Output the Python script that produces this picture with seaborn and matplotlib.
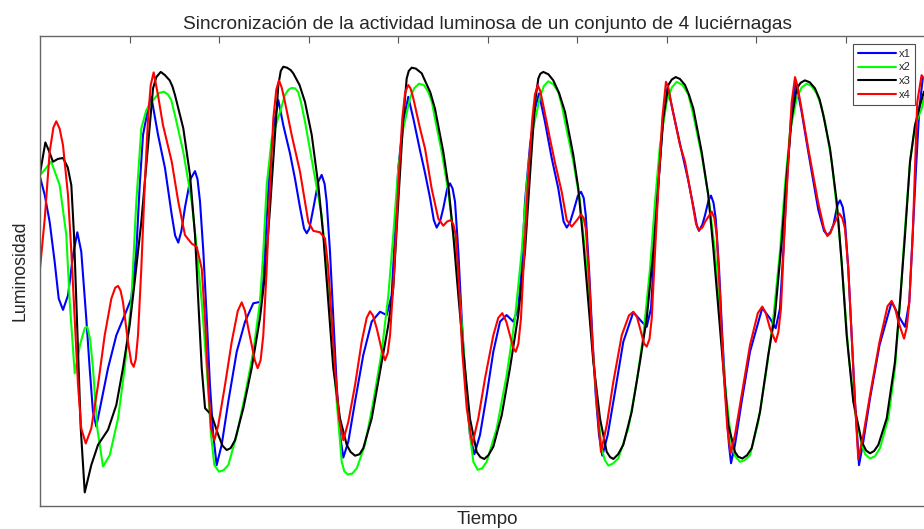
import matplotlib
matplotlib.use("Agg")
import matplotlib.pyplot as plt
import pandas as pd
import seaborn as sns

title = "Sincronización de la actividad luminosa de un conjunto de 4 luciérnagas"
x_label = "Tiempo"
y_label = "Luminosidad"
series_names = ["x1", "x2", "x3", "x4"]
series_colors = ["#0000ff", "#00ff00", "#000000", "#ff0000"]

# (tiempo, luminosidad)
x1_data = [(0.00, 7.00), (0.053, 6.61), (0.108, 6.04), (0.164, 5.19), (0.209, 4.41), (0.257, 4.17), (0.313, 4.48), (0.369, 5.33), (0.417, 5.82), (0.461, 5.41), (0.517, 3.99), (0.555, 2.93), (0.592, 2.00), (0.629, 1.69), (0.685, 2.22), (0.76, 2.93), (0.853, 3.63), (0.946, 4.06), (1.02, 4.41), (1.076, 5.41), (1.114, 6.82), (1.151, 7.89), (1.207, 8.45), (1.244, 8.70), (1.318, 7.90), (1.397, 7.18), (1.471, 6.20), (1.51, 5.75), (1.545, 5.60), (1.58, 5.85), (1.62, 6.35), (1.68, 6.95), (1.732, 7.12), (1.76, 6.95), (1.788, 6.47), (1.825, 5.41), (1.863, 3.99), (1.899, 2.57), (1.936, 1.51), (1.974, 0.87), (2.03, 1.30), (2.104, 2.22), (2.198, 3.28), (2.291, 3.92), (2.383, 4.31), (2.458, 4.34), (2.495, 4.77), (2.533, 6.11), (2.57, 7.32), (2.626, 8.24), (2.663, 8.63), (2.718, 8.10), (2.793, 7.50), (2.849, 6.96), (2.905, 6.35), (2.95, 5.90), (2.98, 5.80), (3.01, 5.90), (3.054, 6.33), (3.11, 6.90), (3.147, 7.04), (3.18, 6.85), (3.203, 6.47), (3.24, 5.41), (3.277, 3.99), (3.315, 2.57), (3.352, 1.51), (3.389, 1.03), (3.445, 1.37), (3.52, 2.22), (3.612, 3.21), (3.706, 3.92), (3.799, 4.13), (3.874, 4.06), (3.929, 4.48), (3.966, 5.76), (4.003, 7.18), (4.059, 8.17), (4.115, 8.70), (4.171, 8.24), (4.246, 7.56), (4.302, 7.08), (4.358, 6.55), (4.40, 6.08), (4.432, 5.92), (4.47, 6.05), (4.506, 6.33), (4.55, 6.75), (4.581, 6.86), (4.61, 6.75), (4.637, 6.47), (4.674, 5.41), (4.712, 3.99), (4.756, 2.57), (4.804, 1.51), (4.853, 1.10), (4.916, 1.51), (4.991, 2.36), (5.065, 3.28), (5.14, 3.92), (5.214, 4.06), (5.288, 3.92), (5.344, 4.20), (5.382, 5.05), (5.419, 6.47), (5.475, 7.67), (5.531, 8.45), (5.575, 8.77), (5.642, 8.17), (5.717, 7.40), (5.791, 6.75), (5.85, 6.05), (5.885, 5.92), (5.92, 6.02), (5.959, 6.26), (6.01, 6.60), (6.045, 6.68), (6.075, 6.55), (6.098, 6.18), (6.134, 5.05), (6.171, 3.63), (6.209, 2.36), (6.246, 1.51), (6.283, 1.07), (6.343, 1.51), (6.425, 2.43), (6.517, 3.49), (6.629, 4.12), (6.723, 3.92), (6.779, 3.81), (6.827, 4.20), (6.864, 5.41), (6.908, 6.82), (6.953, 8.03), (7.013, 8.91), (7.076, 8.35), (7.151, 7.70), (7.24, 6.95), (7.307, 6.30), (7.34, 5.95), (7.363, 5.85), (7.40, 5.98), (7.43, 6.18), (7.47, 6.50), (7.497, 6.60), (7.525, 6.45), (7.55, 6.11), (7.587, 5.05), (7.623, 3.63), (7.661, 2.36), (7.698, 1.30), (7.721, 0.91), (7.765, 1.30), (7.84, 2.22), (7.933, 3.28), (8.07, 4.21), (8.156, 3.99), (8.22, 3.78), (8.268, 4.20), (8.305, 5.41), (8.343, 6.82), (8.391, 8.24), (8.443, 9.05), (8.51, 8.38), (8.584, 7.53), (8.696, 6.30), (8.76, 5.85), (8.797, 5.76), (8.83, 5.82), (8.864, 5.97), (8.91, 6.40), (8.939, 6.50), (8.97, 6.35), (8.994, 6.04), (9.031, 5.05), (9.069, 3.63), (9.106, 2.22), (9.151, 0.87), (9.199, 1.37), (9.274, 2.29), (9.38, 3.42), (9.516, 4.34), (9.609, 3.99), (9.665, 3.81), (9.713, 4.34), (9.751, 5.76), (9.788, 7.18), (9.825, 8.45), (9.863, 9.09), (9.89, 9.12)]

x2_data = [(0.00, 7.03), (0.126, 7.32), (0.22, 6.82), (0.294, 5.76), (0.332, 4.34), (0.388, 2.82), (0.45, 3.45), (0.50, 3.78), (0.528, 3.81), (0.56, 3.55), (0.592, 2.93), (0.64, 1.65), (0.704, 0.84), (0.779, 1.08), (0.872, 1.86), (0.946, 2.93), (1.02, 4.34), (1.076, 6.47), (1.132, 8.03), (1.188, 8.42), (1.263, 8.63), (1.33, 8.78), (1.385, 8.81), (1.43, 8.75), (1.467, 8.63), (1.508, 8.31), (1.601, 7.53), (1.695, 6.47), (1.751, 5.48), (1.807, 4.34), (1.863, 2.93), (1.911, 1.51), (1.948, 0.87), (2.00, 0.73), (2.05, 0.76), (2.104, 0.87), (2.198, 1.51), (2.291, 2.36), (2.383, 3.28), (2.458, 4.34), (2.495, 5.41), (2.533, 6.82), (2.589, 7.81), (2.682, 8.38), (2.737, 8.74), (2.775, 8.85), (2.812, 8.89), (2.85, 8.88), (2.886, 8.80), (2.92, 8.55), (2.961, 8.17), (3.054, 7.18), (3.147, 6.18), (3.203, 5.05), (3.259, 3.63), (3.315, 2.22), (3.371, 0.94), (3.40, 0.74), (3.438, 0.67), (3.49, 0.69), (3.539, 0.80), (3.631, 1.30), (3.724, 2.22), (3.818, 3.28), (3.892, 4.48), (3.947, 5.76), (4.003, 7.18), (4.059, 8.03), (4.134, 8.67), (4.18, 8.88), (4.235, 8.98), (4.29, 8.95), (4.339, 8.80), (4.38, 8.58), (4.413, 8.24), (4.488, 7.53), (4.562, 6.68), (4.637, 5.48), (4.693, 4.34), (4.749, 2.93), (4.804, 1.51), (4.842, 0.94), (4.89, 0.77), (4.94, 0.80), (4.991, 0.94), (5.103, 1.65), (5.214, 2.78), (5.307, 3.99), (5.382, 5.41), (5.438, 6.82), (5.494, 7.89), (5.587, 8.70), (5.63, 8.93), (5.679, 9.03), (5.735, 8.97), (5.791, 8.80), (5.83, 8.52), (5.866, 8.17), (5.959, 7.32), (6.034, 6.47), (6.108, 5.05), (6.164, 3.63), (6.22, 2.22), (6.276, 1.23), (6.31, 0.98), (6.35, 0.86), (6.40, 0.90), (6.461, 1.01), (6.573, 1.65), (6.667, 2.64), (6.741, 3.63), (6.816, 5.05), (6.872, 6.47), (6.927, 7.67), (7.002, 8.59), (7.06, 8.90), (7.114, 9.02), (7.18, 8.95), (7.244, 8.75), (7.30, 8.31), (7.393, 7.46), (7.467, 6.61), (7.542, 5.41), (7.598, 3.99), (7.654, 2.57), (7.729, 1.30), (7.77, 1.05), (7.821, 0.94), (7.87, 0.97), (7.933, 1.08), (8.026, 1.79), (8.12, 2.93), (8.193, 3.99), (8.268, 5.41), (8.324, 6.82), (8.38, 7.96), (8.455, 8.67), (8.51, 8.90), (8.567, 8.98), (8.62, 8.93), (8.678, 8.77), (8.73, 8.50), (8.771, 8.17), (8.846, 7.32), (8.92, 6.04), (8.976, 4.70), (9.031, 3.28), (9.106, 2.00), (9.181, 1.30), (9.22, 1.10), (9.274, 1.01), (9.33, 1.06), (9.385, 1.23), (9.478, 1.86), (9.553, 2.93), (9.609, 4.34), (9.665, 5.90), (9.721, 7.32), (9.777, 8.10), (9.851, 8.45), (9.877, 8.67)]

x3_data = [(0.00, 7.07), (0.06, 7.73), (0.10, 7.55), (0.145, 7.32), (0.20, 7.38), (0.257, 7.40), (0.31, 7.20), (0.35, 6.82), (0.38, 5.76), (0.406, 4.34), (0.432, 2.93), (0.455, 1.66), (0.50, 0.29), (0.573, 0.87), (0.648, 1.30), (0.76, 1.62), (0.853, 2.15), (0.927, 2.93), (1.002, 3.85), (1.058, 4.77), (1.132, 6.04), (1.207, 7.67), (1.263, 8.88), (1.30, 9.12), (1.349, 9.23), (1.397, 9.16), (1.449, 9.05), (1.48, 8.92), (1.508, 8.74), (1.601, 8.03), (1.676, 7.04), (1.732, 5.76), (1.769, 4.34), (1.807, 2.93), (1.844, 2.08), (1.918, 1.93), (1.992, 1.51), (2.04, 1.28), (2.086, 1.19), (2.13, 1.23), (2.179, 1.40), (2.272, 2.08), (2.365, 2.93), (2.458, 4.00), (2.514, 4.91), (2.57, 6.33), (2.626, 7.89), (2.663, 8.95), (2.69, 9.25), (2.718, 9.34), (2.76, 9.32), (2.80, 9.27), (2.83, 9.20), (2.90, 8.95), (2.961, 8.59), (3.036, 7.89), (3.11, 6.82), (3.165, 5.76), (3.221, 4.34), (3.277, 2.93), (3.352, 1.86), (3.427, 1.30), (3.47, 1.15), (3.52, 1.07), (3.57, 1.10), (3.612, 1.23), (3.706, 1.86), (3.799, 2.86), (3.892, 3.85), (3.947, 4.63), (4.003, 6.47), (4.059, 8.24), (4.097, 9.09), (4.12, 9.25), (4.153, 9.32), (4.20, 9.30), (4.265, 9.20), (4.30, 9.05), (4.36, 8.80), (4.413, 8.45), (4.506, 7.53), (4.562, 6.82), (4.618, 5.76), (4.674, 4.48), (4.73, 3.28), (4.804, 1.86), (4.879, 1.15), (4.92, 1.04), (4.964, 1.00), (5.01, 1.08), (5.065, 1.26), (5.159, 1.93), (5.251, 2.93), (5.344, 4.06), (5.419, 5.41), (5.475, 7.04), (5.531, 8.59), (5.568, 9.09), (5.59, 9.19), (5.623, 9.23), (5.68, 9.18), (5.735, 9.05), (5.80, 8.78), (5.866, 8.38), (5.959, 7.46), (6.015, 6.75), (6.07, 5.62), (6.126, 4.34), (6.182, 3.07), (6.257, 1.86), (6.332, 1.15), (6.37, 1.04), (6.406, 1.00), (6.46, 1.10), (6.517, 1.30), (6.611, 2.00), (6.704, 3.07), (6.779, 3.99), (6.853, 5.41), (6.908, 6.82), (6.964, 8.24), (7.02, 8.95), (7.06, 9.07), (7.103, 9.12), (7.15, 9.08), (7.207, 8.95), (7.25, 8.75), (7.30, 8.45), (7.393, 7.53), (7.467, 6.61), (7.523, 5.48), (7.579, 4.20), (7.635, 2.93), (7.691, 1.72), (7.765, 1.15), (7.80, 1.05), (7.847, 1.01), (7.90, 1.08), (7.952, 1.23), (8.045, 2.00), (8.137, 3.21), (8.212, 4.06), (8.287, 5.62), (8.343, 7.04), (8.399, 8.24), (8.455, 8.88), (8.50, 9.00), (8.547, 9.05), (8.60, 9.01), (8.659, 8.88), (8.71, 8.65), (8.752, 8.31), (8.827, 7.60), (8.902, 6.47), (8.957, 5.19), (9.013, 3.63), (9.087, 2.22), (9.181, 1.37), (9.23, 1.18), (9.274, 1.12), (9.32, 1.17), (9.367, 1.30), (9.46, 1.86), (9.553, 3.07), (9.609, 4.34), (9.665, 5.76), (9.721, 7.32), (9.777, 8.10), (9.832, 8.52), (9.877, 8.81)]

x4_data = [(0.00, 5.05), (0.053, 6.11), (0.108, 7.53), (0.15, 8.05), (0.182, 8.18), (0.22, 8.02), (0.257, 7.67), (0.313, 6.61), (0.35, 5.41), (0.388, 3.99), (0.425, 2.57), (0.461, 1.65), (0.511, 1.33), (0.573, 1.65), (0.648, 2.57), (0.723, 3.63), (0.797, 4.41), (0.84, 4.64), (0.872, 4.68), (0.90, 4.58), (0.927, 4.34), (0.983, 3.49), (1.02, 3.05), (1.047, 2.96), (1.07, 3.12), (1.095, 3.63), (1.132, 5.05), (1.17, 6.82), (1.207, 8.24), (1.237, 8.95), (1.27, 9.22), (1.318, 8.74), (1.374, 8.10), (1.472, 7.32), (1.545, 6.47), (1.62, 5.76), (1.695, 5.58), (1.751, 5.51), (1.807, 5.05), (1.844, 3.99), (1.88, 2.57), (1.911, 1.65), (1.948, 1.40), (1.992, 1.72), (2.067, 2.57), (2.142, 3.49), (2.21, 4.15), (2.254, 4.33), (2.29, 4.15), (2.327, 3.78), (2.40, 3.10), (2.432, 2.93), (2.465, 3.10), (2.495, 3.63), (2.533, 5.05), (2.57, 6.82), (2.607, 8.24), (2.64, 8.85), (2.67, 9.05), (2.70, 8.90), (2.737, 8.59), (2.812, 7.89), (2.905, 7.11), (2.998, 6.04), (3.054, 5.85), (3.128, 5.82), (3.184, 5.69), (3.221, 5.05), (3.259, 3.99), (3.296, 2.93), (3.341, 1.86), (3.389, 1.40), (3.445, 1.79), (3.52, 2.57), (3.594, 3.49), (3.65, 4.00), (3.687, 4.14), (3.72, 4.05), (3.762, 3.78), (3.82, 3.30), (3.855, 3.10), (3.885, 3.25), (3.911, 3.63), (3.959, 5.05), (4.003, 6.82), (4.048, 8.24), (4.08, 8.80), (4.115, 8.95), (4.14, 8.88), (4.171, 8.67), (4.246, 8.03), (4.302, 7.60), (4.376, 6.75), (4.45, 6.11), (4.506, 5.96), (4.55, 6.05), (4.592, 6.08), (4.62, 5.98), (4.645, 5.76), (4.682, 4.70), (4.718, 3.28), (4.768, 2.08), (4.83, 1.31), (4.897, 1.86), (4.972, 2.71), (5.065, 3.63), (5.12, 4.00), (5.165, 4.10), (5.21, 3.92), (5.251, 3.63), (5.29, 3.35), (5.315, 3.28), (5.345, 3.45), (5.374, 3.99), (5.411, 5.41), (5.456, 7.04), (5.501, 8.24), (5.53, 8.75), (5.561, 8.95), (5.59, 8.82), (5.623, 8.52), (5.698, 7.81), (5.754, 7.30), (5.829, 6.68), (5.885, 6.08), (5.941, 5.94), (6.00, 6.08), (6.045, 6.20), (6.075, 6.12), (6.098, 5.90), (6.134, 4.91), (6.171, 3.49), (6.22, 2.22), (6.268, 1.15), (6.332, 1.72), (6.406, 2.64), (6.50, 3.63), (6.58, 4.05), (6.629, 4.13), (6.67, 4.02), (6.704, 3.78), (6.75, 3.45), (6.779, 3.39), (6.81, 3.55), (6.835, 3.99), (6.872, 5.41), (6.916, 7.04), (6.953, 8.24), (6.994, 9.02), (7.02, 8.90), (7.058, 8.52), (7.151, 7.67), (7.207, 7.32), (7.281, 6.54), (7.33, 6.00), (7.363, 5.87), (7.40, 5.92), (7.43, 6.04), (7.505, 6.26), (7.535, 6.12), (7.561, 5.76), (7.598, 4.48), (7.635, 2.93), (7.68, 1.65), (7.717, 1.12), (7.765, 1.51), (7.84, 2.36), (7.933, 3.42), (8.02, 4.10), (8.07, 4.24), (8.11, 4.10), (8.156, 3.78), (8.22, 3.49), (8.25, 3.70), (8.279, 4.20), (8.316, 5.76), (8.361, 7.32), (8.399, 8.59), (8.436, 9.12), (8.46, 8.95), (8.492, 8.63), (8.584, 7.60), (8.696, 6.44), (8.76, 5.90), (8.797, 5.74), (8.83, 5.80), (8.864, 5.97), (8.931, 6.22), (8.965, 6.12), (8.994, 5.90), (9.031, 5.05), (9.069, 3.63), (9.106, 2.22), (9.143, 1.00), (9.199, 1.51), (9.274, 2.36), (9.38, 3.49), (9.47, 4.25), (9.516, 4.36), (9.555, 4.20), (9.59, 3.92), (9.654, 3.56), (9.685, 3.80), (9.713, 4.34), (9.751, 5.76), (9.777, 7.18), (9.802, 8.59), (9.85, 9.16), (9.877, 9.09)]

series_data = [x1_data, x2_data, x3_data, x4_data]

sns.set_style("white")
plt.rcParams["font.family"] = ["Liberation Sans", "DejaVu Sans"]
plt.rcParams["lines.solid_joinstyle"] = "round"

fig = plt.figure(figsize=(9.24, 5.29), dpi=100)
ax = fig.add_axes([40 / 924, 23 / 529, 895 / 924, 470.3 / 529])

for name, pts, color in zip(series_names, series_data, series_colors):
    df = pd.DataFrame(pts, columns=["Tiempo", "Luminosidad"])
    sns.lineplot(data=df, x="Tiempo", y="Luminosidad", color=color, linewidth=1.5,
                 label=name, ax=ax, sort=False, estimator=None)

ax.set_xlim(0, 10)
ax.set_ylim(0, 10)
ax.set_xticks(range(1, 10))
ax.set_yticks(range(1, 10))
ax.set_xticklabels([])
ax.set_yticklabels([])
ax.tick_params(direction="in", length=5, width=0.8, top=True, right=True, color="#555555")
for s in ax.spines.values():
    s.set_color("#666666")
    s.set_linewidth(1.0)

ax.set_title(title, fontsize=13.8, pad=5)
ax.set_xlabel(x_label, fontsize=13.5, labelpad=0)
ax.set_ylabel(y_label, fontsize=12.8, labelpad=5)

leg = ax.legend(loc="upper right", bbox_to_anchor=(0.978, 0.982), borderaxespad=0,
                frameon=True, fancybox=False, fontsize=8, handlelength=3.4,
                handletextpad=0.3, labelspacing=0.35, borderpad=0.4)
leg.get_frame().set_edgecolor("#222222")
leg.get_frame().set_linewidth(0.8)

fig.savefig("out.png", dpi=100)
